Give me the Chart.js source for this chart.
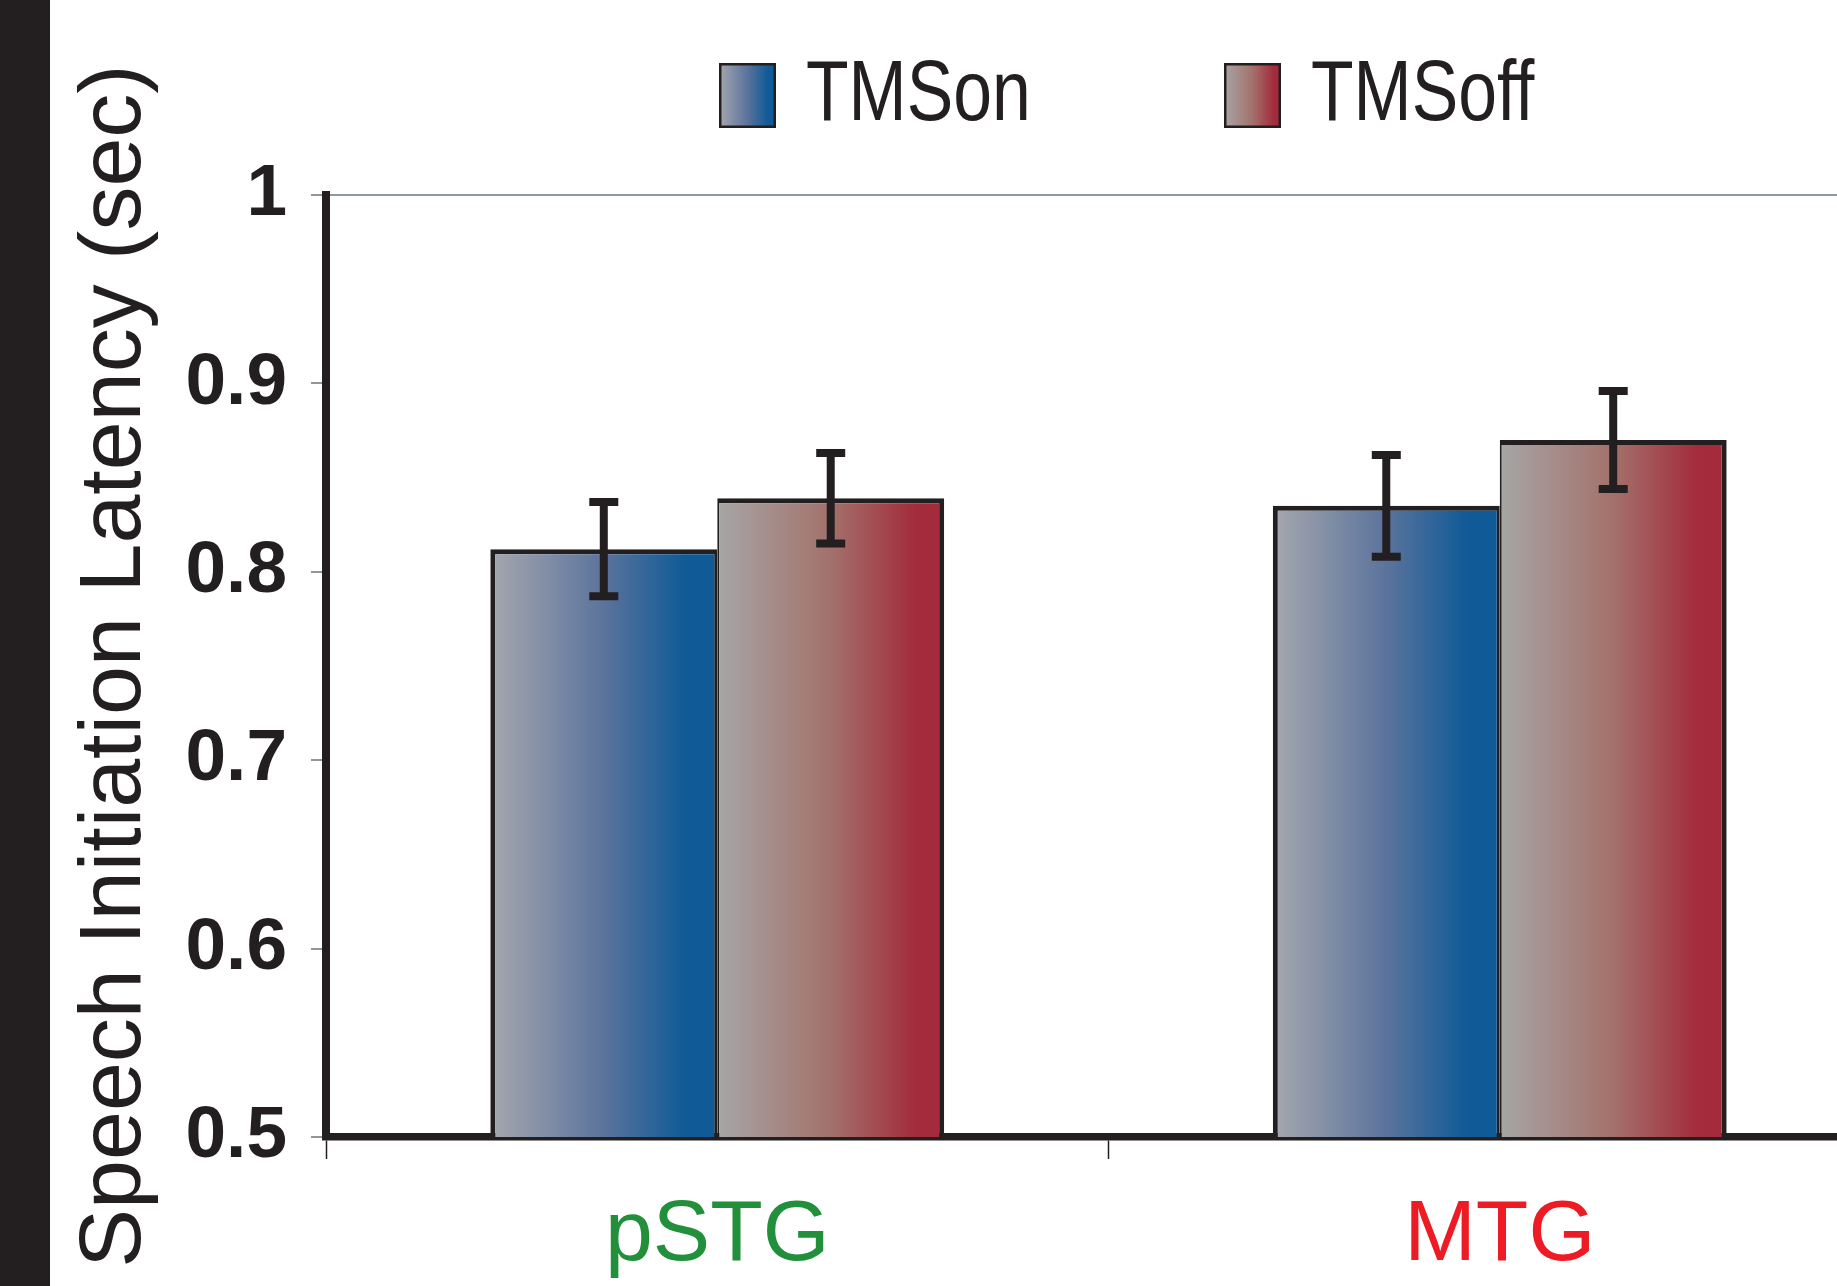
<!DOCTYPE html>
<html><head><meta charset="utf-8">
<script src="https://cdn.jsdelivr.net/npm/chart.js@4.4.0/dist/chart.umd.min.js"></script>
<style>
html,body{margin:0;padding:0;background:#fff;overflow:hidden;width:1837px;height:1286px}
canvas{display:block}
</style>
</head><body>
<canvas id="c" width="1891" height="1286" style="width:1891px;height:1286px"></canvas>
<script>
// ---- data ----
const categories = ['pSTG', 'MTG'];
const categoryColors = ['#22903a', '#ed1c24'];
const seriesNames = ['TMSon', 'TMSoff'];
const tmsOn = [0.812, 0.835];
const tmsOff = [0.839, 0.870];
const tmsOnErr = [0.025, 0.027];
const tmsOffErr = [0.024, 0.026];
const yTickValues = [0.5, 0.6, 0.7, 0.8, 0.9, 1];
const yTickLabels = ['0.5', '0.6', '0.7', '0.8', '0.9', '1'];
const yTitle = 'Speech Initiation Latency (sec)';

// ---- styling ----
const DARK = '#231f20';
const CAT_PCT = 0.58;
const blueStops = [[0, '#a5a8ae'], [0.5, '#5b739c'], [0.86, '#0f5a97'], [1, '#0f5a97']];
const redStops = [[0, '#a7a6a6'], [0.5, '#a3716b'], [0.88, '#a32b3b'], [1, '#a32b3b']];

function fontAvailable(name) {
  const c = document.createElement('canvas').getContext('2d');
  const s = 'TMSoff 0.9 pSTG MTG';
  c.font = '50px monospace';
  const a = c.measureText(s).width;
  c.font = '50px "' + name + '", monospace';
  const b = c.measureText(s).width;
  return Math.abs(a - b) > 0.5;
}
const HAS_NARROW = fontAvailable('Liberation Sans Narrow');
const NARROW = HAS_NARROW ? '"Liberation Sans Narrow", "Liberation Sans", Arial, sans-serif' : '"Liberation Sans", Arial, sans-serif';
const REGULAR = '"Liberation Sans", Arial, sans-serif';

function gradFill(stops) {
  return (ctx) => {
    if (ctx.type !== 'data') return stops[0][1];
    const chart = ctx.chart, xs = chart.scales.x;
    if (!xs || !chart.chartArea) return stops[0][1];
    const catW = xs.width / categories.length;
    const w = catW * CAT_PCT / 2;
    const left = xs.getPixelForValue(ctx.dataIndex) - catW * CAT_PCT / 2 + ctx.datasetIndex * w;
    const g = chart.ctx.createLinearGradient(left, 0, left + w, 0);
    stops.forEach(s => g.addColorStop(s[0], s[1]));
    return g;
  };
}

const background = {
  id: 'background',
  beforeDraw(chart) {
    const ctx = chart.ctx;
    ctx.save();
    ctx.fillStyle = '#ffffff';
    ctx.fillRect(0, 0, chart.width, chart.height);
    ctx.fillStyle = DARK;
    ctx.fillRect(0, 0, 50, chart.height);
    ctx.restore();
  }
};

const errorBars = {
  id: 'errorBars',
  afterDatasetsDraw(chart) {
    const ctx = chart.ctx, ys = chart.scales.y;
    [tmsOnErr, tmsOffErr].forEach((errs, di) => {
      const meta = chart.getDatasetMeta(di);
      const vals = chart.data.datasets[di].data;
      meta.data.forEach((bar, i) => {
        const x = bar.x;
        const top = ys.getPixelForValue(vals[i] + errs[i]);
        const bot = ys.getPixelForValue(vals[i] - errs[i]);
        ctx.save();
        ctx.strokeStyle = DARK;
        ctx.lineWidth = 8;
        ctx.lineCap = 'butt';
        ctx.beginPath();
        ctx.moveTo(x, top); ctx.lineTo(x, bot);
        ctx.moveTo(x - 14.5, top); ctx.lineTo(x + 14.5, top);
        ctx.moveTo(x - 14.5, bot); ctx.lineTo(x + 14.5, bot);
        ctx.stroke();
        ctx.restore();
      });
    });
  }
};

const customLegend = {
  id: 'customLegend',
  afterDraw(chart) {
    const ctx = chart.ctx;
    const items = [
      { name: seriesNames[0], stops: blueStops, x: 719 },
      { name: seriesNames[1], stops: redStops, x: 1224 }
    ];
    items.forEach(it => {
      const bx = it.x, by = 63, bw = 57, bh = 65;
      ctx.save();
      const g = ctx.createLinearGradient(bx, 0, bx + bw, 0);
      it.stops.forEach(s => g.addColorStop(s[0], s[1]));
      ctx.fillStyle = g;
      ctx.fillRect(bx, by, bw, bh);
      ctx.strokeStyle = DARK;
      ctx.lineWidth = 2.5;
      ctx.strokeRect(bx + 1.25, by + 1.25, bw - 2.5, bh - 2.5);
      ctx.fillStyle = DARK;
      ctx.textBaseline = 'alphabetic';
      ctx.textAlign = 'left';
      const tx = bx + 87, ty = 120;
      if (HAS_NARROW) {
        ctx.font = '85px ' + NARROW;
        ctx.fillText(it.name, tx, ty);
      } else {
        ctx.font = '85px ' + REGULAR;
        ctx.translate(tx, ty);
        ctx.scale(0.82, 1);
        ctx.fillText(it.name, 0, 0);
      }
      ctx.restore();
    });
  }
};

new Chart(document.getElementById('c'), {
  type: 'bar',
  data: {
    labels: categories,
    datasets: [
      {
        label: seriesNames[0],
        data: tmsOn,
        backgroundColor: gradFill(blueStops),
        borderColor: DARK,
        borderWidth: { top: 5, left: 5, right: 3, bottom: 0 },
        borderSkipped: false,
        categoryPercentage: CAT_PCT,
        barPercentage: 1
      },
      {
        label: seriesNames[1],
        data: tmsOff,
        backgroundColor: gradFill(redStops),
        borderColor: DARK,
        borderWidth: { top: 5, left: 2, right: 5, bottom: 0 },
        borderSkipped: false,
        categoryPercentage: CAT_PCT,
        barPercentage: 1
      }
    ]
  },
  options: {
    responsive: false,
    animation: false,
    devicePixelRatio: 1,
    layout: { padding: { top: 195, left: 0, right: 0, bottom: 0 } },
    plugins: {
      legend: { display: false },
      tooltip: { enabled: false }
    },
    scales: {
      x: {
        z: 1,
        grid: {
          display: true, drawOnChartArea: false, drawTicks: true,
          tickLength: 22, tickColor: DARK, tickWidth: 1.5, offset: true, color: DARK
        },
        border: { display: true, color: DARK, width: 7.5 },
        ticks: {
          color: categoryColors,
          font: { family: NARROW, size: HAS_NARROW ? 98 : 86 },
          padding: HAS_NARROW ? 16 : 26, maxRotation: 0, autoSkip: false
        },
        afterFit(s) { s.height = 149; }
      },
      y: {
        min: 0.5, max: 1,
        afterBuildTicks(s) { s.ticks = yTickValues.map(v => ({ value: v })); },
        ticks: {
          callback: (v, i) => yTickLabels[i],
          font: { family: NARROW, size: HAS_NARROW ? 81 : 73, weight: 'bold' },
          color: DARK, padding: 24
        },
        grid: {
          drawOnChartArea: true,
          color: (c) => (c.tick && c.tick.value === 1) ? '#8d98a0' : 'rgba(0,0,0,0)',
          lineWidth: 2, tickLength: 15, tickColor: '#6d7378', tickWidth: 1.5
        },
        border: { display: true, color: DARK, width: 8 },
        title: {
          display: true, text: yTitle,
          font: { family: REGULAR, size: 88 },
          color: DARK, padding: { top: 63, bottom: 0 }
        },
        afterFit(s) { s.width = 326; }
      }
    }
  },
  plugins: [background, errorBars, customLegend]
});
</script>
</body></html>
